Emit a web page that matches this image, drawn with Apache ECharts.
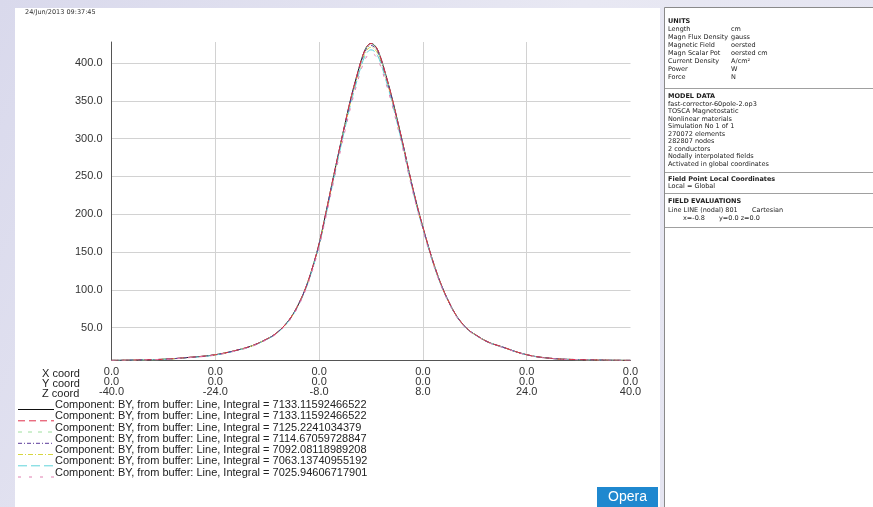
<!DOCTYPE html>
<html><head><meta charset="utf-8">
<script src="https://cdn.jsdelivr.net/npm/echarts@6/dist/echarts.min.js"></script>
<style>html,body{margin:0;padding:0;}#c{width:873px;height:507px;}</style>
</head><body><div id="c"></div>
<script>
// ---- data ----
var zCoords = [-40,-36,-32,-28,-24,-20,-18,-16,-15,-14,-13,-12,-11,-10,-9,-8,-7,-6,-5,-4,-3,-2,-1.5,-1,-0.5,0,0.5,1,1.5,2,3,4,5,6,7,8,9,10,11,12,13,14,15,16,18,20,24,28,32,36,40];
var xTickLabels = ['0.0','0.0','0.0','0.0','0.0','0.0'];
var yTickLabels = ['0.0','0.0','0.0','0.0','0.0','0.0'];
var series1 = [6.5,7.0,8.0,10.5,14.0,21.5,27.0,35,40,47,56,68,84,104,130,161,200,241,281,320,357,389,404,416,423.5,426,424,418,407,393,362,327,290,251,215,183,153,126,103,84,68,56,47,41,31,25,14,9,7.5,6.8,6.5];
var series2 = [6.5,7.0,8.0,10.5,14.0,21.5,27.0,35,40,47,56,68,84,104,130,161,200,241,281,320,357,389,404,416,423.5,426,424,418,407,393,362,327,290,251,215,183,153,126,103,84,68,56,47,41,31,25,14,9,7.5,6.8,6.5];
var series3 = [6.5,7.0,8.0,10.5,14.0,21.5,27.0,35,40,47,56,68,84,104,130,160.8,199.7,240.6,280.6,319.5,356.4,388.3,403.2,415.1,422.5,425.0,423.0,417.1,406.2,392.3,361.4,326.5,289.6,250.7,214.7,182.8,152.8,125.8,102.9,83.9,67.9,55.9,46.9,41,31,25,14,9,7.5,6.8,6.5];
var series4 = [6.5,7.0,8.0,10.4,13.9,21.4,26.9,34.9,39.9,46.9,55.8,67.8,83.7,103.7,129.6,160.4,199.2,240.0,280.0,318.7,355.6,387.3,402.0,413.8,421.2,423.4,421.4,415.6,404.9,391.1,360.4,325.7,288.9,250.1,214.2,182.4,152.5,125.6,102.8,83.8,67.8,55.8,46.8,40.9,30.9,24.9,13.9,9.0,7.5,6.8,6.5];
var series5 = [6.4,6.9,7.9,10.3,13.8,21.3,26.8,34.7,39.7,46.6,55.5,67.4,83.3,103.2,128.9,159.6,198.1,238.6,278.3,316.8,353.4,384.9,399.6,411.4,418.7,421.0,419.1,413.4,402.8,389.1,358.7,324.2,287.6,249.0,213.3,181.7,151.9,125.1,102.3,83.4,67.5,55.6,46.6,40.7,30.8,24.8,13.9,8.9,7.4,6.7,6.4];
var series6 = [6.4,6.9,7.8,10.2,13.6,21.1,26.6,34.5,39.4,46.3,55.1,66.9,82.6,102.4,127.9,158.3,196.4,236.6,276.0,314.2,350.4,381.8,396.5,408.0,415.2,417.6,415.8,410.2,399.7,386.1,356.1,321.9,285.6,247.4,212.0,180.6,151.0,124.4,101.8,83.0,67.2,55.3,46.4,40.5,30.6,24.6,13.8,8.8,7.4,6.7,6.4];
var series7 = [6.3,6.8,7.7,10.1,13.4,20.8,26.2,34.1,38.9,45.7,54.4,66.1,81.6,101.2,126.3,156.4,194.1,233.8,272.8,310.5,346.4,377.5,392.0,403.3,410.5,413.0,411.3,405.8,395.5,382.2,352.6,318.9,283.0,245.2,210.2,179.1,149.8,123.4,101.0,82.4,66.7,54.9,46.1,40.2,30.4,24.4,13.7,8.7,7.3,6.6,6.3];
var integrals = ['7133.11592466522','7133.11592466522','7125.2241034379','7114.67059728847','7092.08118989208','7063.13740955192','7025.94606717901'];
var rowLabels = ['X coord','Y coord','Z coord'];
var timestamp = '24/Jun/2013 09:37:45';
var unitsRows = [['Length','cm'],['Magn Flux Density','gauss'],['Magnetic Field','oersted'],['Magn Scalar Pot','oersted cm'],['Current Density','A/cm\u00b2'],['Power','W'],['Force','N']];
var modelRows = ['fast-corrector-60pole-2.op3','TOSCA Magnetostatic','Nonlinear materials','Simulation No 1 of 1','270072 elements','282807 nodes','2 conductors','Nodally interpolated fields','Activated in global coordinates'];

// ---- styles ----
var allSeries = [series1,series2,series3,series4,series5,series6,series7];
var styles = [
  {color:'#111111', type:'solid', z:2},
  {color:'#e0304a', type:[7,4], z:8},
  {color:'#9ee09e', type:[4,6], z:3},
  {color:'#5a3a9a', type:[4,2,1,2], z:6},
  {color:'#d6d640', type:[5,2,1,2], z:4},
  {color:'#5fd3da', type:[9,4], z:5},
  {color:'#e07fb0', type:[3,8], z:9}
];

var chart = echarts.init(document.getElementById('c'), null, {renderer:'canvas'});
var seriesList = allSeries.map(function(arr, i){
  return {
    type:'line', name:'s'+i,
    data: zCoords.map(function(z,k){ return [z, arr[k]]; }),
    showSymbol:false, smooth:0.4, silent:true,
    lineStyle:{color:styles[i].color, width:1, type:styles[i].type},
    z: styles[i].z
  };
});

var g = [];
// backgrounds
g.push({type:'rect', shape:{x:15,y:8,width:645,height:499}, style:{fill:'#ffffff'}, z:-20, silent:true});
g.push({type:'rect', shape:{x:664.5,y:7.5,width:220,height:510}, style:{fill:'#ffffff', stroke:'#8a8a8a', lineWidth:1}, z:-20, silent:true});
g.push({type:'text', left:25, top:9, style:{text:timestamp, font:'6.5px "DejaVu Sans"', fill:'#333'}, z:10});
// row labels
rowLabels.forEach(function(t,i){
  g.push({type:'text', x:42, y:368+i*10, style:{text:t, font:'11px "Liberation Sans"', fill:'#222'}, z:10});
});
// legend
var legY = [405.5,416.8,428,439.3,450.5,461.8,473];
integrals.forEach(function(v,i){
  g.push({type:'line', shape:{x1:18,y1:legY[i]+4,x2:54,y2:legY[i]+4}, style:{stroke:styles[i].color, lineWidth:1, lineDash: styles[i].type==='solid'?null:styles[i].type}, z:10});
  g.push({type:'text', x:55, y:legY[i]-6, style:{text:'Component: BY, from buffer: Line, Integral = '+v, font:'11px "Liberation Sans"', fill:'#222'}, z:10});
});
// Opera button
g.push({type:'rect', shape:{x:597,y:487,width:61,height:20}, style:{fill:'#1f88cf'}, z:10});
g.push({type:'text', x:627.5, y:497, style:{text:'Opera', font:'14px "Liberation Sans"', fill:'#ffffff', align:'center', verticalAlign:'middle'}, z:11});
// right panel
var F = '6.5px "DejaVu Sans"', FB = 'bold 6.5px "DejaVu Sans"';
function ptext(x,y,t,bold){ g.push({type:'text', x:x, y:y, style:{text:t, font:bold?FB:F, fill:'#222', verticalAlign:'middle'}, z:10}); }
function sep(y){ g.push({type:'line', shape:{x1:665,y1:y,x2:873,y2:y}, style:{stroke:'#a0a0a0', lineWidth:1}, z:10}); }
ptext(668,21.5,'UNITS',true);
unitsRows.forEach(function(r,i){ ptext(668,29.5+i*7.9,r[0]); ptext(731,29.5+i*7.9,r[1]); });
sep(88.5);
ptext(668,96.5,'MODEL DATA',true);
modelRows.forEach(function(r,i){ ptext(668,104+i*7.5,r); });
sep(172.5);
ptext(668,179.5,'Field Point Local Coordinates',true);
ptext(668,186.5,'Local = Global');
sep(193.5);
ptext(668,201,'FIELD EVALUATIONS',true);
ptext(668,210,'Line LINE (nodal) 801');
ptext(752,210,'Cartesian');
ptext(683,218,'x=-0.8');
ptext(719,218,'y=0.0 z=0.0');
sep(227.5);

var option = {
  backgroundColor: new echarts.graphic.LinearGradient(0,0,1,1,[{offset:0,color:'#d9d9ec'},{offset:0.5,color:'#e8e8f3'},{offset:1,color:'#e3e3f0'}]),
  animation:false,
  grid:{left:111.5, top:42, width:519, height:318, containLabel:false},
  xAxis:{type:'value', min:-40, max:40, interval:16,
    axisLine:{show:true, onZero:false, lineStyle:{color:'#555', width:1}},
    axisTick:{show:false},
    splitLine:{show:true, showMinLine:false, showMaxLine:false, lineStyle:{color:'#d2d2d2', width:1}},
    axisLabel:{margin:7, fontSize:11, lineHeight:10, color:'#333', fontFamily:'Liberation Sans',
      showMinLabel:true, showMaxLabel:true,
      formatter:function(v){ var i=Math.round((v+40)/16); return xTickLabels[i]+'\n'+yTickLabels[i]+'\n'+v.toFixed(1); }}
  },
  yAxis:{type:'value', min:7, max:428, splitNumber:8, minInterval:50, maxInterval:50,
    axisLine:{show:true, onZero:false, lineStyle:{color:'#555', width:1}},
    axisTick:{show:false},
    splitLine:{show:true, showMinLine:false, showMaxLine:false, lineStyle:{color:'#d2d2d2', width:1}},
    axisLabel:{margin:9, fontSize:11, color:'#333', fontFamily:'Liberation Sans',
      formatter:function(v){ return (v>0 && Math.abs(v%50)<1e-6) ? v.toFixed(1) : ''; }}
  },
  series: seriesList,
  graphic:{elements:g}
};
chart.setOption(option);
</script></body></html>
